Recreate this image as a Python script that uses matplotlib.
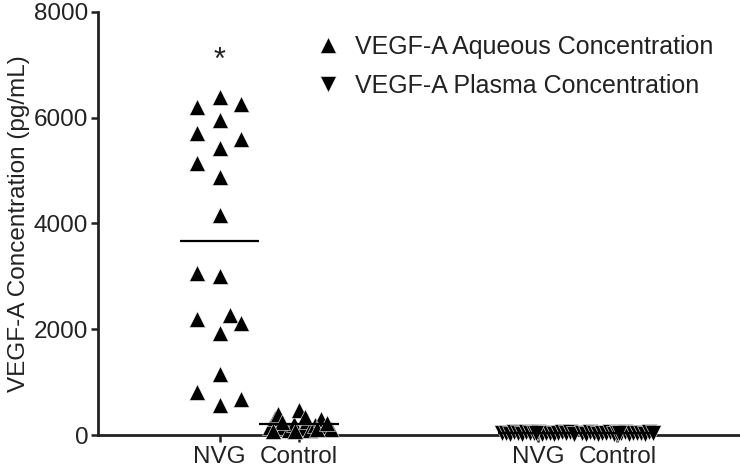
import numpy as np
import matplotlib
matplotlib.use("Agg")
import matplotlib.pyplot as plt

plt.rcParams['font.family'] = ['Liberation Sans', 'DejaVu Sans']

# ---- data ----
group_labels = ["NVG", "Control", "NVG", "Control"]
group_pos = [0, 1, 4, 5]

nvg_aqueous = [6398, 6209, 6259, 5957, 5711, 5597, 5427, 5150, 4879, 4160,
               3069, 3007, 2193, 2269, 2118, 1935, 1153, 813, 567, 687]
nvg_aqueous_jit = [0, -0.28, 0.27, 0, -0.28, 0.27, 0, -0.28, 0, 0,
                   -0.28, 0, -0.28, 0.135, 0.27, 0, 0, -0.28, 0, 0.27]

ctrl_aqueous = [150, 320, 390, 150, 100, 210, 470, 130, 260, 90,
                190, 300, 170, 120, 70, 110, 250, 340, 80, 220]
ctrl_aqueous_jit = [-0.37, -0.3, -0.27, -0.2, -0.13, -0.07, 0, 0.05, 0.1, 0.14,
                    0.2, 0.27, 0.33, 0.4, -0.05, 0.22, -0.22, 0.07, -0.33, 0.35]

nvg_plasma = [30, 45, 20, 55, 35, 25, 50, 40, 30, 60, 20, 45, 35, 25, 40, 50, 30, 55, 20, 40]
nvg_plasma_jit = [-0.45, -0.4, -0.35, -0.3, -0.25, -0.2, -0.15, -0.1, -0.05, 0,
                  0.05, 0.1, 0.15, 0.2, 0.25, 0.3, 0.35, 0.4, 0.45, -0.02]

ctrl_plasma = [35, 25, 50, 40, 20, 45, 30, 55, 25, 40, 35, 50, 20, 45, 30, 40, 25, 55, 35, 30]
ctrl_plasma_jit = [-0.45, -0.4, -0.35, -0.3, -0.25, -0.2, -0.15, -0.1, -0.05, 0,
                   0.05, 0.1, 0.15, 0.2, 0.25, 0.3, 0.35, 0.4, 0.45, 0.02]

yticks = [0, 2000, 4000, 6000, 8000]

# ---- figure ----
fig = plt.figure(figsize=(7.4, 4.68), dpi=100)
ax = fig.add_axes([0.1324, 0.0705, 0.8676, 0.9039])

ms = 12
aq_sets = [(nvg_aqueous, nvg_aqueous_jit, group_pos[0]),
           (ctrl_aqueous, ctrl_aqueous_jit, group_pos[1])]
pl_sets = [(nvg_plasma, nvg_plasma_jit, group_pos[2]),
           (ctrl_plasma, ctrl_plasma_jit, group_pos[3])]

for i, (vals, jit, p) in enumerate(aq_sets):
    ax.plot(np.array(jit) + p, vals, linestyle='none', marker='^', ms=ms,
            color='black', mec='white', mew=0.4, clip_on=False, zorder=3,
            label='VEGF-A Aqueous Concentration' if i == 0 else None)
    ax.hlines(np.mean(vals), p - 0.5, p + 0.5, color='black', lw=1.6, zorder=4)

for i, (vals, jit, p) in enumerate(pl_sets):
    ax.plot(np.array(jit) + p, vals, linestyle='none', marker='v', ms=ms,
            color='black', mec='white', mew=0.4, clip_on=False, zorder=3,
            label='VEGF-A Plasma Concentration' if i == 0 else None)
    ax.hlines(np.mean(vals), p - 0.5, p + 0.5, color='black', lw=1.6, zorder=4)

ax.text(group_pos[0], 7080, '*', ha='center', va='center', fontsize=22, color='#222222')

ax.set_xlim(-1.53, 6.54)
ax.set_ylim(0, 8000)
ax.set_yticks(yticks)
ax.set_xticks(group_pos)
ax.set_xticklabels(group_labels)
ax.tick_params(axis='both', labelsize=17.5, width=1.8, length=5, color='#222222',
               labelcolor='#222222')
ax.tick_params(axis='y', pad=2)
ax.tick_params(axis='x', pad=3)

for s in ['top', 'right']:
    ax.spines[s].set_visible(False)
for s in ['left', 'bottom']:
    ax.spines[s].set_linewidth(2)
    ax.spines[s].set_color('#222222')

ax.set_ylabel('VEGF-A Concentration (pg/mL)', fontsize=17.5, color='#222222', labelpad=3)

leg = ax.legend(loc='upper left', bbox_to_anchor=(0.314, 0.982), frameon=False,
                fontsize=18, handletextpad=0.5, labelspacing=0.6,
                markerscale=0.95, handlelength=1.1, borderaxespad=0.2)
for t in leg.get_texts():
    t.set_color('#222222')

fig.savefig('out.png', dpi=100)
